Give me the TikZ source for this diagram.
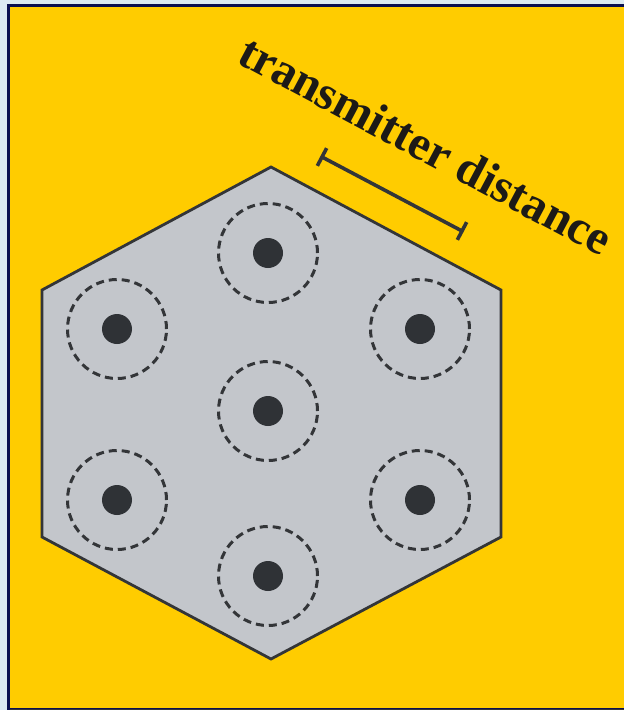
\documentclass[tikz,border=0pt]{standalone}
\usepackage{fontspec}
\setmainfont{Liberation Serif}
\usetikzlibrary{calc}
\definecolor{bgblue}{HTML}{DCEAF2}
\definecolor{navy}{HTML}{0B1050}
\definecolor{gold}{HTML}{FFCC00}
\definecolor{hexgray}{HTML}{C3C6CB}
\definecolor{ink}{HTML}{333538}
\definecolor{dotc}{HTML}{2F3236}
\definecolor{txt}{HTML}{1C1A17}
\begin{document}
\begin{tikzpicture}[x=1pt,y=-1pt,
  cell/.style={draw=ink,line width=3pt,dash pattern=on 8pt off 5pt,circle,minimum size=99pt,inner sep=0pt},
  tx/.style={fill=dotc,circle,minimum size=30pt,inner sep=0pt},
  bar/.style={draw=ink,line width=3.6pt}]
\fill[bgblue] (0,0) rectangle (624,710);
\fill[navy] (7,4) rectangle (624,710);
\fill[gold] (10,7) rectangle (624,708);
\draw[ink,line width=1pt] (10,709) -- (624,709);
% hexagon
\coordinate (h1) at (271,167);
\coordinate (h2) at (501,290);
\coordinate (h3) at (501,537);
\coordinate (h4) at (271,659);
\coordinate (h5) at (42,537);
\coordinate (h6) at (42,290);
\filldraw[fill=hexgray,draw=ink,line width=2.8pt,line join=miter] (h1)--(h2)--(h3)--(h4)--(h5)--(h6)--cycle;
% transmitters
\foreach \n/\x/\y in {a/268/253,b/117/329,c/420/329,d/268/411,e/117/500,f/420/500,g/268/576}{
  \node[cell] (c\n) at (\x,\y) {};
  \node[tx] (t\n) at (\x,\y) {};
}
% distance bar
\coordinate (b1) at (322,157);
\coordinate (b2) at (462,231);
\draw[bar] (b1) -- (b2);
\draw[bar] ($(b1)!10pt!90:(b2)$) -- ($(b1)!10pt!-90:(b2)$);
\draw[bar] ($(b2)!10pt!90:(b1)$) -- ($(b2)!10pt!-90:(b1)$);
\node[rotate=-28,text=txt,font=\fontsize{48}{50}\selectfont\bfseries,inner sep=0pt] (lbl) at (426,145) {transmitter distance};
\end{tikzpicture}
\end{document}
